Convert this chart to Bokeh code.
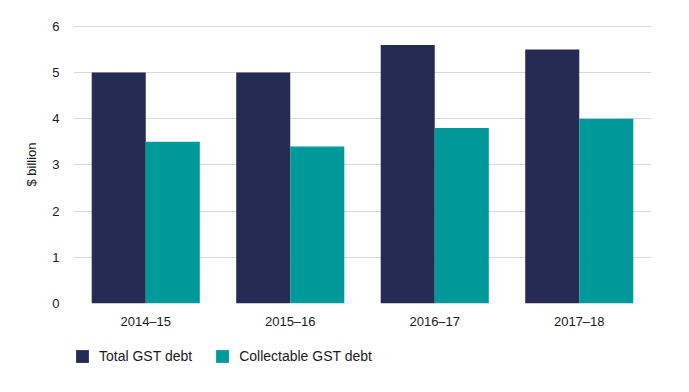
from bokeh.plotting import figure
from bokeh.layouts import column
from bokeh.models import FactorRange, Range1d, Legend, LegendItem, ColumnDataSource, FixedTicker
from bokeh.transform import dodge
from bokeh.embed import file_html
from bokeh.resources import INLINE

years = ["2014–15", "2015–16", "2016–17", "2017–18"]
total_gst = [5.0, 5.0, 5.6, 5.5]
collectable_gst = [3.5, 3.4, 3.8, 4.0]
y_ticks = [0, 1, 2, 3, 4, 5, 6]
series_names = ["Total GST debt", "Collectable GST debt"]

NAVY = "#252B52"
TEAL = "#00999A"
FONT = "Liberation Sans"

src = ColumnDataSource(dict(years=years, total=total_gst, coll=collectable_gst))

p = figure(width=689, height=335, x_range=FactorRange(*years, range_padding=0),
           y_range=Range1d(0, 6.02), output_backend="svg", toolbar_location=None,
           min_border_left=73, min_border_right=38, min_border_top=25, min_border_bottom=32)

r1 = p.vbar(x=dodge("years", -0.187, range=p.x_range), top="total", width=0.374,
            source=src, fill_color=NAVY, line_color=None)
r2 = p.vbar(x=dodge("years", 0.187, range=p.x_range), top="coll", width=0.374,
            source=src, fill_color=TEAL, line_color=None)

p.outline_line_color = None
p.xgrid.grid_line_color = None
p.ygrid.grid_line_color = "#d9d9d9"
p.ygrid.grid_line_width = 1
p.yaxis.ticker = FixedTicker(ticks=y_ticks)

for ax in (p.xaxis, p.yaxis):
    ax.axis_line_color = None
    ax.major_tick_line_color = None
    ax.minor_tick_line_color = None
    ax.major_label_text_font = FONT
    ax.major_label_text_font_size = "13px"
    ax.major_label_text_color = "#1a1a1a"

p.xaxis.major_label_standoff = 4
p.yaxis.major_label_standoff = 8
p.yaxis.axis_label = "$ billion"
p.yaxis.axis_label_text_font = FONT
p.yaxis.axis_label_text_font_style = "normal"
p.yaxis.axis_label_text_font_size = "13px"
p.yaxis.axis_label_text_color = "#1a1a1a"
p.yaxis.axis_label_standoff = 10

# legend figure (swatch renderers hold one point outside the visible range)
lg = figure(width=689, height=57, x_range=Range1d(0, 1), y_range=Range1d(0, 1),
            output_backend="svg", toolbar_location=None,
            min_border_left=73, min_border_right=38, min_border_top=0, min_border_bottom=0,
            x_axis_location=None, y_axis_location=None)
lg.outline_line_color = None
lg.grid.grid_line_color = None
swatch = ColumnDataSource(dict(x=[-10], top=[-10]))
d1 = lg.vbar(x="x", top="top", width=0.1, source=swatch, fill_color=NAVY, line_color=None)
d2 = lg.vbar(x="x", top="top", width=0.1, source=swatch, fill_color=TEAL, line_color=None)

legend = Legend(items=[LegendItem(label=series_names[0], renderers=[d1]),
                       LegendItem(label=series_names[1], renderers=[d2])],
                orientation="horizontal", location=(1, 28),
                label_text_font=FONT, label_text_font_size="14px",
                label_text_color="#1a1a1a", glyph_width=16, glyph_height=16,
                spacing=22, padding=0, margin=0, border_line_color=None,
                label_standoff=9, background_fill_alpha=0)
lg.add_layout(legend, "center")

layout = column(p, lg, spacing=0)
open("out.html", "w").write(file_html(layout, INLINE))
